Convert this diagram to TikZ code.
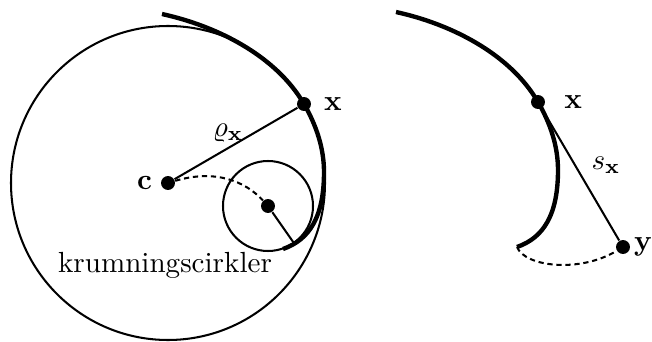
\documentclass[tikz,border=0pt]{standalone}
\usepackage{amsmath, amssymb, bm}
\usetikzlibrary{positioning}

\begin{document}
\begin{tikzpicture}[x=0.3436pt, y=0.3436pt]
    \tikzstyle{dot} = [circle, fill, inner sep=0pt, minimum size=4.8pt]
    \tikzstyle{spiral} = [line width=1.5pt]
    \tikzstyle{stroke} = [line width=0.7pt]
    \tikzstyle{dashline} = [line width=0.7pt, dash pattern=on 1.8pt off 1.3pt]

    \useasboundingbox (0,0) rectangle (652,341);

    % Nodes
    \node (c) [dot] at (168,158) {};
    \node (xl) [dot] at (304,237) {};
    \node (s) [dot] at (268,135) {};
    \coordinate (t) at (293.8,98.1);
    \node (xr) [dot] at (538,239) {};
    \node (y) [dot] at (623,94) {};
    \coordinate (e) at (517,94);

    % Circles
    \draw [stroke] (c) circle [radius=157];
    \draw [stroke] (s) circle [radius=45];

    % Curve, twice
    \foreach \dx/\dy in {0/0, 234/2}
        \draw [spiral, shift={(\dx,\dy)}] (162,327) .. controls (216.7,315) and (275.8,285.5) .. (304,237)
            .. controls (316.1,216.2) and (324,193) .. (324,169)
            .. controls (324,124) and (309.4,101.2) .. (283,92);

    % Lines
    \draw [stroke] (c) -- (xl);
    \draw [stroke] (s) -- (t);
    \draw [stroke] (xr) -- (y);
    \draw [dashline] (c) .. controls (215,172) and (245,160) .. (s);
    \draw [dashline] (e) .. controls (525,74) and (580,68) .. (y);

    % Labels
    \node [left=-0.6pt of c] {$\mathbf{c}$};
    \node [right=0.8pt of xl] {$\mathbf{x}$};
    \node [right=2.9pt of xr] {$\mathbf{x}$};
    \node [right=-2.3pt of y] {$\mathbf{y}$};
    \node at (228,208) {$\varrho_{\mathbf{x}}$};
    \node at (606,176) {$s_{\mathbf{x}}$};
    \node at (165,76) {krumningscirkler};
\end{tikzpicture}
\end{document}
